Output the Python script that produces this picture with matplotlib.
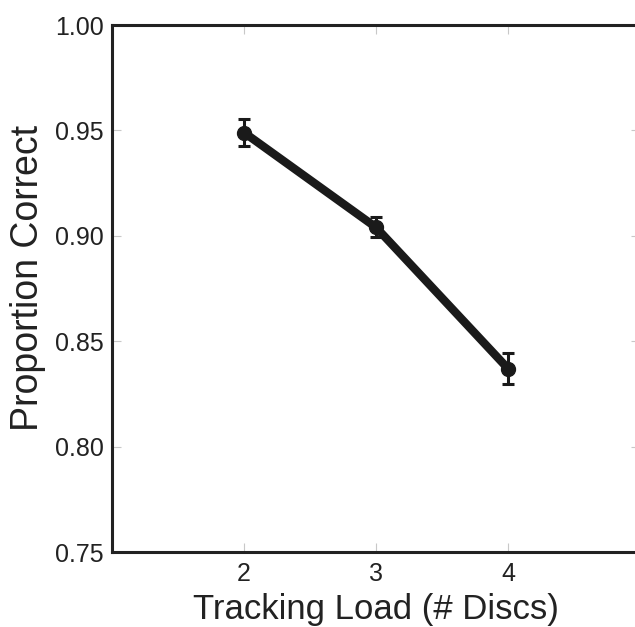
import matplotlib
matplotlib.use("Agg")
import matplotlib.pyplot as plt

plt.rcParams["font.family"] = ["Liberation Sans", "DejaVu Sans"]

# Data
loads = [2, 3, 4]
prop_correct = [0.949, 0.904, 0.837]
prop_err = [0.0066, 0.0047, 0.0073]

X_TICKS = [2, 3, 4]
Y_TICKS = [0.75, 0.80, 0.85, 0.90, 0.95, 1.00]

fig = plt.figure(figsize=(6.35, 6.27), dpi=100)
ax = fig.add_axes([0.1764, 0.1196, 0.8315, 0.8405])

ax.errorbar(loads, prop_correct, yerr=prop_err, color="#1a1a1a",
            linewidth=6, marker="o", markersize=10,
            elinewidth=2.2, capsize=4.5, capthick=2.2, zorder=3)

ax.set_xlim(1, 5)
ax.set_ylim(0.75, 1.00)
ax.set_xticks(X_TICKS)
ax.set_yticks(Y_TICKS)
ax.set_yticklabels([f"{v:.2f}" for v in Y_TICKS])

ax.tick_params(direction="in", length=6.5, width=0.8, color="#c8c8c8",
               labelsize=18, labelcolor="#222222",
               top=True, right=True, pad=6)
ax.tick_params(axis="x", pad=7)

for sp in ax.spines.values():
    sp.set_linewidth(2.2)
    sp.set_color("#222222")

ax.set_xlabel("Tracking Load (# Discs)", fontsize=25, color="#222222", labelpad=5)
ax.set_ylabel("Proportion Correct", fontsize=27, color="#222222")
ax.yaxis.set_label_coords(-0.125, 0.521)

fig.savefig("out.png", dpi=100)
